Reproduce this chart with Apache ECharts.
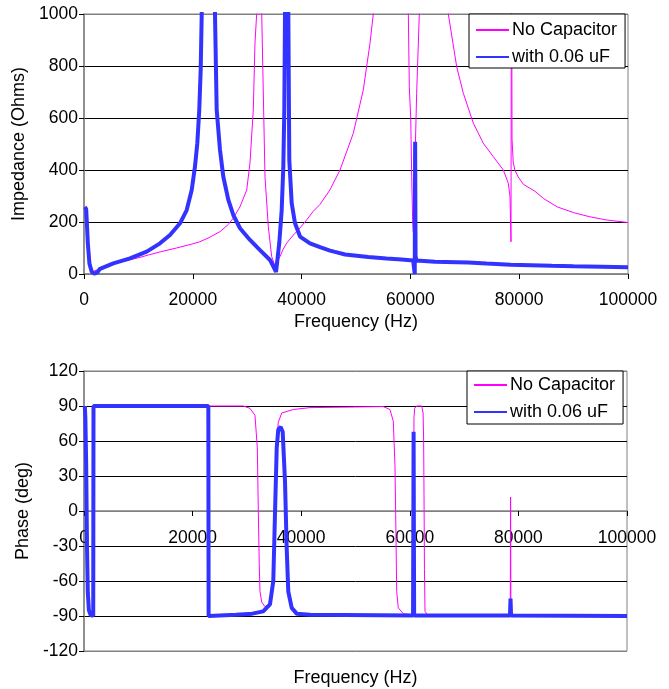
<!DOCTYPE html>
<html>
<head>
<meta charset="utf-8">
<script src="https://cdn.jsdelivr.net/npm/echarts@6/dist/echarts.min.js"></script>
<style>
html,body{margin:0;padding:0;background:#fff;}
#chart{width:669px;height:689px;}
</style>
</head>
<body>
<div id="chart"></div>
<script>
// ---------- data ----------
const seriesNames = ['No Capacitor', 'with 0.06 uF'];
const freqTicks = [0, 20000, 40000, 60000, 80000, 100000];

// Impedance, No Capacitor
const zNoCapFreq = [1800,2000,3000,5400,8500,10300,12000,14000,17000,20000,21300,23000,25000,26500,27440,28680,29910,30510,31120,31430,31740,32200,32670,32960,33270,33880,34500,34930,35100,35400,36030,36600,37260,38500,39700,41000,42100,43400,45200,47060,49500,51340,52570,53180,55000,57500,59000,59620,59800,60060,60240,60420,60540,60700,60900,61150,61640,62500,64500,66500,66970,68510,69730,71570,73400,75240,77080,78000,78310,78490,78580,78680,78900,79200,79800,80760,82900,84500,87000,90000,93000,96000,100000];
const zNoCapVal  = [11,12,20,38,55,64,74,85,100,116,124,140,163,190,215,259,323,427,631,888,1000,1600,1000,696,374,182,67,42,30,45,67,95,119,150,177,210,240,268,323,400,541,708,887,1000,1800,3000,1800,1000,720,600,374,200,160,300,480,695,1000,1600,3000,1300,1000,797,695,580,503,451,400,349,297,124,1500,520,430,400,374,345,318,290,258,236,220,208,198];

// Impedance, with 0.06 uF
const zCapFreq = [150,400,700,1000,1400,1900,2400,2940,5390,8460,11530,13970,15810,17650,18880,19800,20400,20830,21190,21450,21640,22300,22900,23500,24080,24390,25000,25610,26530,27440,28680,30510,32350,34190,34900,35300,35540,35900,36340,36640,36820,36950,37250,37560,37740,38180,38790,39710,41540,43380,45220,46140,48000,52270,55600,58400,60500,60750,60800,60870,60950,61100,64520,70650,74000,78400,78550,78700,85970,90000,95160,100000];
const zCapVal  = [258,250,120,40,10,1,5,20,41,60,86,118,150,195,246,323,413,503,631,785,1000,2500,4000,2500,1000,631,477,374,285,227,176,131,92,54,25,8,10,120,246,413,631,1000,3000,1000,438,272,195,144,118,103,90,85,75,65,60,56,52,50,0,509,70,52,47,44,40,36,42,36,32,30,28,26];

// Phase, No Capacitor
const pNoCapFreq = [1800,29340,30570,31490,31920,32100,32280,32410,32730,33330,33940,34570,34860,35170,35490,35780,36410,38550,41620,55120,56350,56960,57270,57400,57590,57880,58800,60450,60600,60700,60770,60900,61260,62190,62450,62550,62620,62700,62800,63220,66000,78500,78560,78620,100000];
const pNoCapVal  = [90,90,88,82,54,0,-46,-69,-78,-82,-80.6,-75,-46,11,59,76,84,87,88.6,89.5,87,77,39,-3,-69,-83,-88,-89,-85,0,80,88,90,90,84,60,13,-50,-86,-89,-89.5,-89.5,12,-89.5,-90];

// Phase, with 0.06 uF
const pCapFreq = [150,250,400,550,700,900,1200,1700,1750,22900,22950,28000,31000,33000,34250,34860,35170,35490,35780,36220,36590,37020,37330,37620,38250,39170,41620,60600,60700,60800,78450,78550,78650,100000];
const pCapVal  = [90,80,40,-30,-70,-85,-89,-90,90,90,-90,-89,-88,-86,-80,-60,-3,54,70,72,68,25,-32,-69,-83,-88,-89,-89.5,68,-89.5,-89.5,-75,-89.5,-90];

// ---------- chart ----------
const zip = (xs, ys) => xs.map((x, i) => [x, ys[i]]);
const FONT = 'Liberation Sans, Arial, sans-serif';
const PINK = '#ff00ff';
const BLUE = '#3333ff';
const GRAY = '#808080';
const txt = {color: '#000', fontFamily: FONT, fontSize: 17.5};

function xAxisCfg(gridIndex, name, nameGap, labelMargin, offset) {
  return {
    type: 'value', gridIndex, min: 0, max: 100000, interval: 20000,
    position: 'bottom', offset,
    name, nameLocation: 'middle', nameGap,
    nameTextStyle: {color: '#000', fontFamily: FONT, fontSize: 18},
    axisLine: {show: true, onZero: false, lineStyle: {color: GRAY, width: 1.5}},
    axisTick: {show: true, inside: false, length: 5, lineStyle: {color: '#000'}},
    axisLabel: Object.assign({margin: labelMargin, formatter: v => String(v)}, txt),
    splitLine: {show: false}
  };
}

function legendCfg(left, top, padding) {
  return {
    orient: 'vertical', left, top, padding,
    data: seriesNames,
    itemWidth: 33, itemHeight: 10, itemGap: 9,
    itemStyle: {opacity: 0},
    borderColor: '#000', borderWidth: 1, backgroundColor: '#fff',
    textStyle: {color: '#000', fontFamily: FONT, fontSize: 18, padding: [0, 0, 0, -2]},
    selectedMode: false
  };
}

const option = {
  animation: false,
  backgroundColor: '#fff',
  grid: [
    {left: 84, top: 14, width: 544, height: 260, show: true, borderColor: GRAY, borderWidth: 1, containLabel: false, outerBoundsMode: 'none'},
    {left: 84, top: 371, width: 543, height: 280, show: true, borderColor: GRAY, borderWidth: 1, containLabel: false, outerBoundsMode: 'none'}
  ],
  title: [{
    text: 'Frequency (Hz)', left: 355.5, top: 669, textAlign: 'center',
    textStyle: {color: '#000', fontFamily: FONT, fontSize: 18, fontWeight: 'normal'}, padding: 0
  }],
  legend: [legendCfg(469, 14, [7, 8, 2, 6]), legendCfg(467, 371, [5, 8, 3, 6])],
  xAxis: [xAxisCfg(0, 'Frequency (Hz)', 39, 17, 0), xAxisCfg(1, '', 0, 18, -140)],
  yAxis: [
    {
      type: 'value', gridIndex: 0, min: 0, max: 1000, interval: 200,
      name: 'Impedance (Ohms)', nameLocation: 'middle', nameGap: 46,
      nameTextStyle: {color: '#000', fontFamily: FONT, fontSize: 18},
      axisLine: {show: true, lineStyle: {color: GRAY, width: 1.5}},
      axisTick: {show: true, length: 5, lineStyle: {color: '#000'}},
      axisLabel: Object.assign({margin: 6, formatter: v => String(v)}, txt),
      splitLine: {show: true, lineStyle: {color: [GRAY, '#000', '#000', '#000', '#000', GRAY], width: 1}}
    },
    {
      type: 'value', gridIndex: 1, min: -120, max: 120, interval: 30,
      name: 'Phase (deg)', nameLocation: 'middle', nameGap: 52,
      nameTextStyle: {color: '#000', fontFamily: FONT, fontSize: 18},
      axisLine: {show: true, onZero: false, lineStyle: {color: GRAY, width: 1.5}},
      axisTick: {show: true, length: 5, lineStyle: {color: '#000'}},
      axisLabel: Object.assign({margin: 6, formatter: v => String(v)}, txt),
      splitLine: {show: true, lineStyle: {color: [GRAY, '#000', '#000', '#000', GRAY, '#000', '#000', '#000', GRAY], width: 1}}
    }
  ],
  series: [
    {name: seriesNames[0], type: 'line', xAxisIndex: 0, yAxisIndex: 0, data: zip(zNoCapFreq, zNoCapVal),
     showSymbol: false, symbol: 'none', clip: true, lineStyle: {color: PINK, width: 1}, itemStyle: {color: PINK}, z: 2},
    {name: seriesNames[1], type: 'line', xAxisIndex: 0, yAxisIndex: 0, data: zip(zCapFreq, zCapVal),
     showSymbol: false, symbol: 'none', clip: true, lineStyle: {color: BLUE, width: 4}, itemStyle: {color: BLUE}, z: 3},
    {name: seriesNames[0], type: 'line', xAxisIndex: 1, yAxisIndex: 1, data: zip(pNoCapFreq, pNoCapVal),
     showSymbol: false, symbol: 'none', clip: true, lineStyle: {color: PINK, width: 1}, itemStyle: {color: PINK}, z: 2},
    {name: seriesNames[1], type: 'line', xAxisIndex: 1, yAxisIndex: 1, data: zip(pCapFreq, pCapVal),
     showSymbol: false, symbol: 'none', clip: true, lineStyle: {color: BLUE, width: 4}, itemStyle: {color: BLUE}, z: 3}
  ]
};

const chart = echarts.init(document.getElementById('chart'), null, {renderer: 'canvas'});
chart.setOption(option);
</script>
</body>
</html>
